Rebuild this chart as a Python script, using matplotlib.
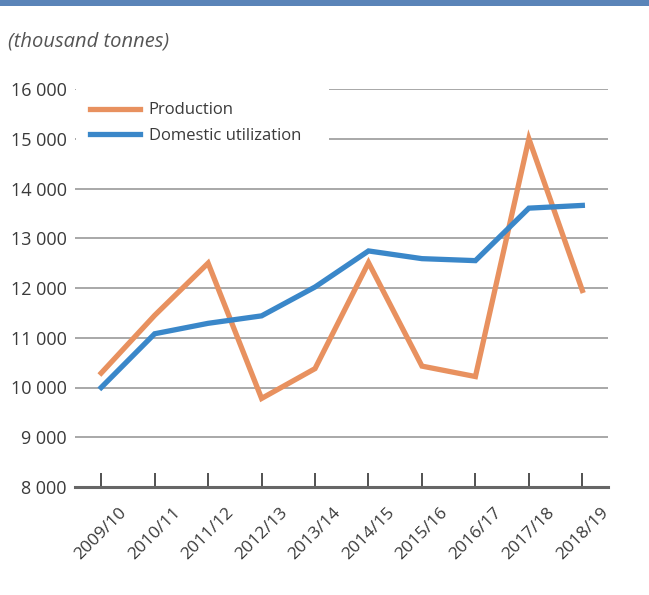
import matplotlib.pyplot as plt
from matplotlib.patches import Rectangle

# Values (thousand tonnes)
SEASONS = ["2009/10", "2010/11", "2011/12", "2012/13", "2013/14",
           "2014/15", "2015/16", "2016/17", "2017/18", "2018/19"]
PRODUCTION = [10290, 11450, 12500, 9780, 10380, 12510, 10430, 10220, 15000, 11950]
DOMESTIC = [10000, 11080, 11290, 11440, 12020, 12745, 12590, 12550, 13605, 13660]
Y_TICKS = [8000, 9000, 10000, 11000, 12000, 13000, 14000, 15000, 16000]

ORANGE = "#e8915f"
BLUE = "#3a87c9"
TEXT = "#3a3a3a"

plt.rcParams['font.family'] = ['Open Sans', 'DejaVu Sans']

fig = plt.figure(figsize=(6.49, 5.95), dpi=100)
ax = fig.add_axes([75/649, 1 - 487/595, (608-75)/649, (487-89)/595])

# top band
fig.patches.append(Rectangle((0, 1 - 6/595), 1, 6/595, transform=fig.transFigure,
                             facecolor="#5a84b8", edgecolor="none"))
fig.text(8/649, 1 - 42/595, "(thousand tonnes)", style="italic", fontsize=14.5,
         color="#555555", va="center", ha="left")

x = range(len(SEASONS))
ax.plot(x, PRODUCTION, color=ORANGE, lw=3.8, label="Production", solid_joinstyle="miter")
ax.plot(x, DOMESTIC, color=BLUE, lw=3.8, label="Domestic utilization", solid_joinstyle="miter")

ax.set_xlim(-0.49, 9.48)
ax.set_ylim(8000, 16000)
ax.set_yticks(Y_TICKS)
ax.set_yticklabels([f"{v:,}".replace(",", " ") for v in Y_TICKS])
ax.set_xticks(list(x))
ax.set_xticklabels(SEASONS, rotation=45, ha="center", va="top")

ax.grid(axis="y", color="#999999", lw=1.2)
ax.set_axisbelow(True)
for s in ["top", "right", "left"]:
    ax.spines[s].set_visible(False)
ax.spines["bottom"].set_color("#666666")
ax.spines["bottom"].set_linewidth(2.2)

ax.tick_params(axis="y", length=0, pad=6, labelsize=13, labelcolor=TEXT)
ax.tick_params(axis="x", direction="in", length=10, width=1.2, color="#333333",
               pad=13, labelsize=12.5, labelcolor=TEXT)

leg = ax.legend(loc="upper left", bbox_to_anchor=(0.002, 0.5, 0.475, 0.502),
                mode="expand", frameon=True, fancybox=False, borderaxespad=0,
                handlelength=3.0, handletextpad=0.5, fontsize=12,
                labelspacing=0.55, borderpad=0.85)
leg.get_frame().set_facecolor("white")
leg.get_frame().set_edgecolor("none")
leg.get_frame().set_alpha(1)
for t in leg.get_texts():
    t.set_color(TEXT)

fig.savefig("out.png", dpi=100)
